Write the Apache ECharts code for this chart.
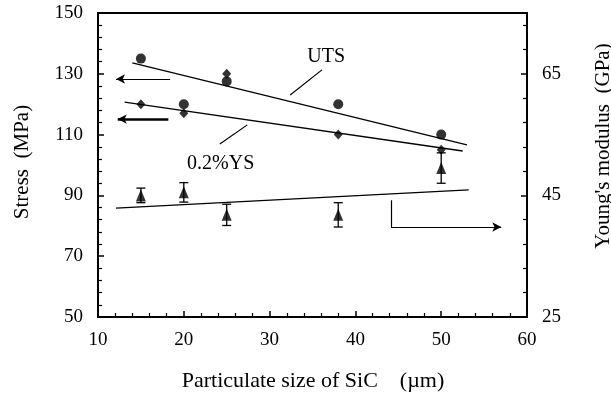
<!DOCTYPE html>
<html>
<head>
<meta charset="utf-8">
<script src="https://cdn.jsdelivr.net/npm/echarts@6/dist/echarts.min.js"></script>
<style>
  html, body { margin: 0; padding: 0; background: #fff; }
  #chart { width: 611px; height: 399px; }
</style>
</head>
<body>
<div id="chart"></div>
<script>
// Particulate size of SiC (µm)
const sizes = [15, 20, 25, 38, 50];
// Stress (MPa)
const utsValues = [135, 120, 127.5, 120, 110];
const ysValues = [120, 117, 130, 110, 105];
// Young's modulus (GPa) with error half-widths
const modulusValues = [45, 45.5, 41.8, 41.8, 49.5];
const modulusErrors = [1.2, 1.6, 1.75, 2, 2.5];
// Trend lines (end points)
const utsFit = [[14, 133.6], [53, 106.6]];
const ysFit = [[13.1, 120.7], [52.5, 104.6]];
const modulusFit = [[12.1, 42.9], [53.2, 45.9]];
// Axis ticks
const xTicks = { min: 10, max: 60, step: 10 };
const stressTicks = { min: 50, max: 150, step: 20 };
const modulusTicks = { min: 25, max: 75, step: 20 };

const FONT = 'Liberation Serif';
const BLACK = '#000';

const pair = (xs, ys) => xs.map((x, i) => [x, ys[i]]);

const chart = echarts.init(document.getElementById('chart'), null, { renderer: 'canvas' });

const axisCommon = {
  type: 'value',
  axisLine: { show: true, lineStyle: { color: BLACK, width: 2 } },
  axisTick: { show: true, inside: true, length: 6, lineStyle: { color: BLACK, width: 1.5 } },
  minorTick: { show: true, splitNumber: 5, length: 4, lineStyle: { color: BLACK, width: 1.2 } },
  splitLine: { show: false },
  axisLabel: { color: BLACK, fontFamily: FONT, fontSize: 19 }
};

const arrowLine = (from, to, width, arrowAtEnd) => [
  { coord: from, symbol: 'none', lineStyle: { width: width } },
  { coord: to, symbol: arrowAtEnd ? 'arrow' : 'none' }
];

chart.setOption({
  animation: false,
  backgroundColor: '#fff',
  grid: { left: 98, right: 84, top: 13, bottom: 82, show: true, borderColor: BLACK, borderWidth: 2 },
  xAxis: Object.assign({}, axisCommon, {
    min: xTicks.min, max: xTicks.max, interval: xTicks.step,
    axisLabel: Object.assign({}, axisCommon.axisLabel, { margin: 14 })
  }),
  yAxis: [
    Object.assign({}, axisCommon, {
      min: stressTicks.min, max: stressTicks.max, interval: stressTicks.step,
      position: 'left',
      axisLabel: Object.assign({}, axisCommon.axisLabel, { margin: 15 })
    }),
    Object.assign({}, axisCommon, {
      min: modulusTicks.min, max: modulusTicks.max, interval: modulusTicks.step,
      position: 'right',
      axisLabel: Object.assign({}, axisCommon.axisLabel, { margin: 15, showMaxLabel: false })
    })
  ],
  graphic: [
    { type: 'text', x: 22, y: 162, rotation: Math.PI / 2,
      style: { text: 'Stress  (MPa)', fill: BLACK, font: '21px "' + FONT + '"', textAlign: 'center', textVerticalAlign: 'middle' } },
    { type: 'text', x: 603, y: 146, rotation: Math.PI / 2,
      style: { text: "Young's modulus  (GPa)", fill: BLACK, font: '21px "' + FONT + '"', textAlign: 'center', textVerticalAlign: 'middle' } },
    { type: 'text', x: 313, y: 381,
      style: { text: 'Particulate size of SiC    (\u00b5m)', fill: BLACK, font: '22px "' + FONT + '"', textAlign: 'center', textVerticalAlign: 'middle' } }
  ],
  series: [
    {
      name: 'UTS fit', type: 'line', data: utsFit, symbol: 'none',
      lineStyle: { color: BLACK, width: 1.3 }, z: 2,
      markLine: {
        silent: true, symbolSize: [7, 9],
        lineStyle: { color: BLACK, type: 'solid' }, label: { show: false },
        data: [
          arrowLine([18.4, 128.3], [12.1, 128.3], 1.1, true),
          arrowLine([32.4, 123.0], [36.1, 131.3], 1.2, false),
          arrowLine([24.2, 106.9], [27.4, 113.2], 1.2, false),
          arrowLine([18.2, 115.1], [12.3, 115.1], 2.6, true)
        ]
      },
      markPoint: {
        silent: true, symbolSize: 0,
        label: { show: true, color: BLACK, fontFamily: FONT, fontSize: 20, position: 'inside' },
        data: [
          { coord: [36.6, 135.5], value: 'UTS', label: { formatter: 'UTS' } },
          { coord: [24.3, 100.3], value: '0.2%YS', label: { formatter: '0.2%YS' } }
        ]
      }
    },
    {
      name: 'YS fit', type: 'line', data: ysFit, symbol: 'none',
      lineStyle: { color: BLACK, width: 1.3 }, z: 2
    },
    {
      name: 'Modulus fit', type: 'line', yAxisIndex: 1, data: modulusFit, symbol: 'none',
      lineStyle: { color: BLACK, width: 1.3 }, z: 2,
      markLine: {
        silent: true, symbolSize: [7, 9],
        lineStyle: { color: BLACK, type: 'solid', width: 1.2 }, label: { show: false },
        data: [
          arrowLine([44.15, 44.2], [44.15, 39.8], 1.2, false),
          arrowLine([44.15, 39.8], [57.0, 39.8], 1.2, true)
        ]
      }
    },
    {
      name: 'UTS', type: 'scatter', data: pair(sizes, utsValues),
      symbol: 'circle', symbolSize: 10, itemStyle: { color: BLACK }, z: 4
    },
    {
      name: '0.2%YS', type: 'scatter', data: pair(sizes, ysValues),
      symbol: 'diamond', symbolSize: [9, 10], itemStyle: { color: BLACK }, z: 4
    },
    {
      name: 'Modulus error', type: 'custom', yAxisIndex: 1,
      data: sizes.map((x, i) => [x, modulusValues[i], modulusErrors[i]]),
      encode: { x: 0, y: 1 },
      renderItem: function (params, api) {
        const x = api.value(0), v = api.value(1), e = api.value(2);
        const top = api.coord([x, v + e]);
        const bot = api.coord([x, v - e]);
        const w = 4.5;
        const st = { stroke: BLACK, lineWidth: 1.3 };
        return {
          type: 'group',
          children: [
            { type: 'line', shape: { x1: top[0], y1: top[1], x2: bot[0], y2: bot[1] }, style: st },
            { type: 'line', shape: { x1: top[0] - w, y1: top[1], x2: top[0] + w, y2: top[1] }, style: st },
            { type: 'line', shape: { x1: bot[0] - w, y1: bot[1], x2: bot[0] + w, y2: bot[1] }, style: st }
          ]
        };
      },
      z: 3
    },
    {
      name: "Young's modulus", type: 'scatter', yAxisIndex: 1,
      data: pair(sizes, modulusValues),
      symbol: 'triangle', symbolSize: [10, 12], itemStyle: { color: BLACK }, z: 4
    }
  ]
});
</script>
</body>
</html>
